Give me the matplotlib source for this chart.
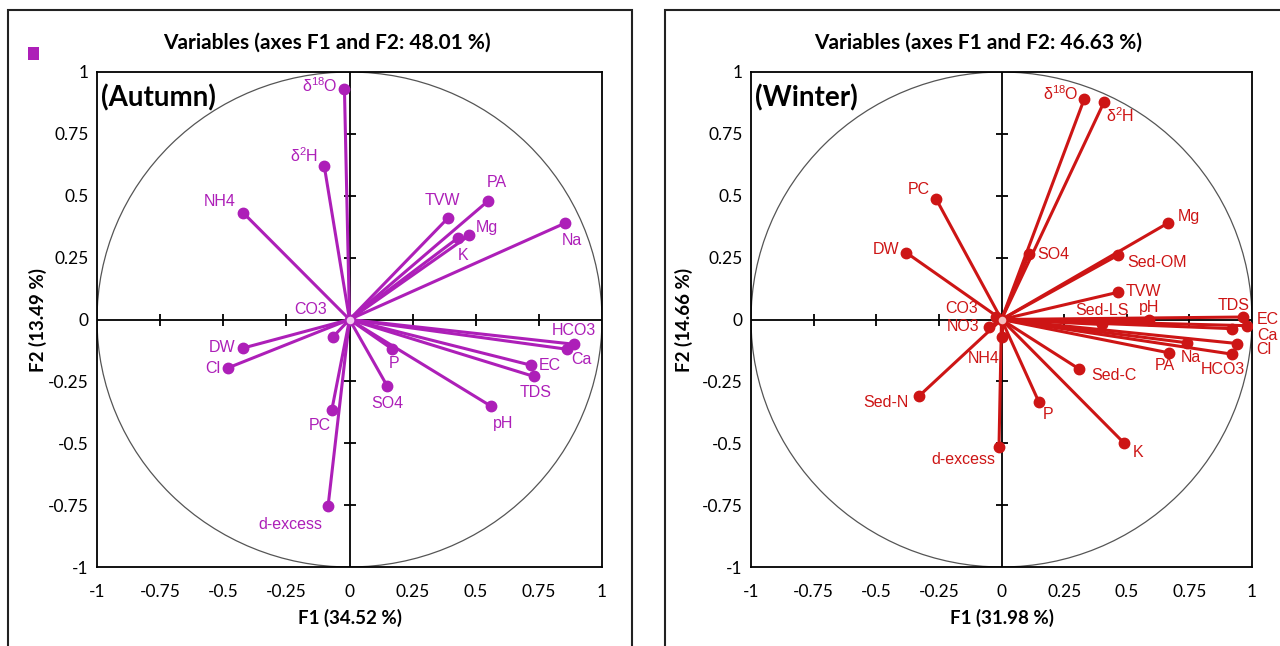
import matplotlib
matplotlib.use("Agg")
import matplotlib.pyplot as plt
from matplotlib.patches import Rectangle, Ellipse
import numpy as np

plt.rcParams['mathtext.default'] = 'regular'

# ---------------- data ----------------
aut_names = ['δ$^{18}$O', 'δ$^{2}$H', 'NH4', 'TVW', 'PA', 'Mg', 'K', 'Na', 'CO3',
             'DW', 'Cl', 'P', 'SO4', 'PC', 'd-excess', 'pH', 'EC', 'TDS', 'HCO3', 'Ca']
aut_f1 = [-0.02, -0.10, -0.42, 0.39, 0.55, 0.475, 0.43, 0.855, -0.065,
          -0.42, -0.48, 0.17, 0.15, -0.07, -0.085, 0.56, 0.72, 0.73, 0.89, 0.86]
aut_f2 = [0.93, 0.62, 0.43, 0.41, 0.48, 0.34, 0.33, 0.39, -0.07,
          -0.115, -0.195, -0.12, -0.27, -0.365, -0.755, -0.35, -0.185, -0.23, -0.10, -0.12]

win_names = ['δ$^{18}$O', 'δ$^{2}$H', 'PC', 'DW', 'Mg', 'SO4', 'Sed-OM', 'TVW', 'Sed-LS',
             'pH', 'TDS', 'EC', 'Ca', 'Cl', 'HCO3', 'Na', 'PA', 'Sed-C', 'P', 'K',
             'Sed-N', 'NO3', 'CO3', 'NH4', 'd-excess']
win_f1 = [0.33, 0.41, -0.26, -0.38, 0.665, 0.11, 0.465, 0.465, 0.40,
          0.59, 0.965, 0.98, 0.92, 0.94, 0.92, 0.74, 0.67, 0.31, 0.15, 0.49,
          -0.33, -0.05, -0.02, 0.0, -0.01]
win_f2 = [0.89, 0.88, 0.485, 0.27, 0.39, 0.265, 0.26, 0.11, -0.02,
          0.0, 0.01, -0.025, -0.037, -0.097, -0.14, -0.094, -0.135, -0.2, -0.335, -0.50,
          -0.31, -0.03, 0.01, -0.07, -0.515]

ticks = [-1, -0.75, -0.5, -0.25, 0, 0.25, 0.5, 0.75, 1]
tick_labels = ['-1', '-0.75', '-0.5', '-0.25', '0', '0.25', '0.5', '0.75', '1']

# label placement (offset in pixels, horizontal alignment)
aut_lab = [(-7, 4, 'right'), (-6, 10, 'right'), (-8, 12, 'right'), (-6, 18, 'center'),
           (8, 18, 'center'), (6, 8, 'left'), (5, -18, 'center'), (6, -18, 'center'),
           (-22, 27, 'center'), (-8, 0, 'right'), (-8, -1, 'right'), (2, -14, 'center'),
           (0, -17, 'center'), (-12, -16, 'center'), (-6, -18, 'right'), (12, -17, 'center'),
           (7, 0, 'left'), (2, -16, 'center'), (0, 14, 'center'), (5, -10, 'left')]
win_lab = [(-6, 6, 'right'), (2, -14, 'left'), (-6, 10, 'right'), (-7, 3, 'right'),
           (10, 6, 'left'), (8, -1, 'left'), (9, -7, 'left'), (8, 1, 'left'),
           (0, 14, 'center'), (0, 12, 'center'), (-10, 12, 'center'), (10, 6, 'left'),
           (25, -7, 'left'), (19, -6, 'left'), (-9, -15, 'center'), (4, -15, 'center'),
           (-5, -13, 'center'), (12, -7, 'left'), (9, -12, 'center'), (9, -9, 'left'),
           (-10, -6, 'right'), (-10, 0, 'right'), (-18, 9, 'right'), (-2, -22, 'right'),
           (-4, -13, 'right')]

PURPLE = '#AD1FB8'
RED = '#CD1515'
TFONT = 'Lato'
LFONT = 'Liberation Sans'

W, H = 1280, 646
fig = plt.figure(figsize=(W / 100, H / 100), dpi=100)

# outer panel boxes
fig.add_artist(Rectangle((8 / W, -0.05), 624 / W, 1.05 - 10 / H, transform=fig.transFigure,
                         fill=False, lw=1.5, ec='#222222'))
fig.add_artist(Rectangle((665 / W, -0.05), 0.6, 1.05 - 10 / H, transform=fig.transFigure,
                         fill=False, lw=1.5, ec='#222222'))
fig.add_artist(Rectangle((28 / W, 1 - 60 / H), 11 / W, 13 / H, transform=fig.transFigure,
                         fc=PURPLE, ec='none'))


def panel(left_px, right_px, names, f1, f2, labs, color, season, title, xl, yl, ylx):
    ax = fig.add_axes([left_px / W, 1 - 567 / H, (right_px - left_px) / W, 495 / H])
    ax.set_xlim(-1, 1)
    ax.set_ylim(-1, 1)
    ax.set_xticks(ticks)
    ax.set_xticklabels(tick_labels)
    ax.set_yticks(ticks)
    ax.set_yticklabels(tick_labels)
    ax.tick_params(length=0, labelsize=12.5)
    ax.tick_params(axis='x', pad=12)
    ax.tick_params(axis='y', pad=6)
    for lbl in ax.get_xticklabels() + ax.get_yticklabels():
        lbl.set_fontfamily(TFONT)
    for sp in ax.spines.values():
        sp.set_linewidth(1.3)
    ax.add_patch(Ellipse((0, 0), 2, 2, fill=False, ec='#555555', lw=0.9))
    ax.axhline(0, color='black', lw=1.3, zorder=1)
    ax.axvline(0, color='black', lw=1.3, zorder=1)
    inner = [t for t in ticks if t not in (-1, 0, 1)]
    ax.plot(inner, [0] * len(inner), ls='none', marker='|', ms=8, mew=1.3, color='black', zorder=1)
    ax.plot([0] * len(inner), inner, ls='none', marker='_', ms=8, mew=1.3, color='black', zorder=1)
    for n, x, y, (dx, dy, ha) in zip(names, f1, f2, labs):
        ax.plot([0, x], [0, y], color=color, lw=2.2, solid_capstyle='round', zorder=3)
        ax.plot([x], [y], marker='o', ms=7.5, color=color, zorder=4)
        ax.annotate(n, (x, y), xytext=(dx * 0.72, dy * 0.72), textcoords='offset points',
                    ha=ha, va='center', color=color, fontsize=11.5, family=LFONT,
                    annotation_clip=False, zorder=5)
    ax.plot([0], [0], marker='o', ms=7, mfc='#F0C8F0' if color == PURPLE else '#F5C0C0',
            mec=color, mew=1.5, zorder=5)
    ax.text(0.008, 0.975, season, transform=ax.transAxes, ha='left', va='top',
            fontsize=20, fontweight='bold', family=TFONT)
    cx = (left_px + right_px) / 2 / W
    fig.text(cx - 0.018, 1 - 43 / H, title, ha='center', va='center', fontsize=15,
             fontweight='bold', family=TFONT)
    fig.text(cx, 1 - 618 / H, xl, ha='center', va='center', fontsize=13.5,
             fontweight='bold', family=TFONT)
    fig.text(ylx / W, 1 - 320 / H, yl, ha='center', va='center', rotation=90, fontsize=13.5,
             fontweight='bold', family=TFONT)
    return ax


panel(97, 602, aut_names, aut_f1, aut_f2, aut_lab, PURPLE, '(Autumn)',
      'Variables (axes F1 and F2: 48.01 %)', 'F1 (34.52 %)', 'F2 (13.49 %)', 38)
panel(751, 1252, win_names, win_f1, win_f2, win_lab, RED, '(Winter)',
      'Variables (axes F1 and F2: 46.63 %)', 'F1 (31.98 %)', 'F2 (14.66 %)', 684)

fig.savefig('out.png', dpi=100)
